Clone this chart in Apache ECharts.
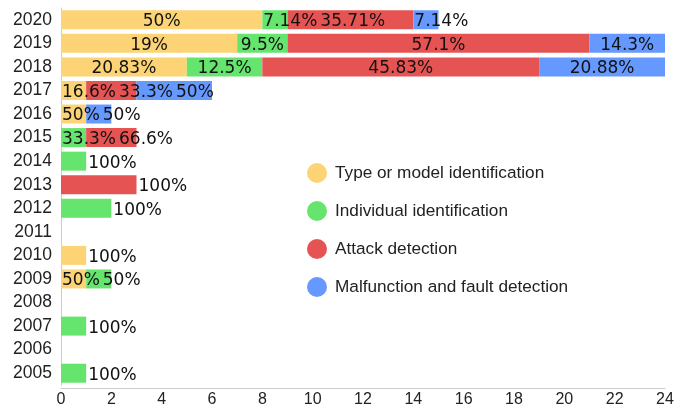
<!DOCTYPE html>
<html>
<head>
<meta charset="utf-8">
<script src="https://cdn.jsdelivr.net/npm/echarts@6/dist/echarts.min.js"></script>
<style>
html, body { margin: 0; padding: 0; background: #fff; }
#chart { width: 686px; height: 408px; }
</style>
</head>
<body>
<div id="chart"></div>
<script>
// years, bottom to top
const years = ['2005', '2006', '2007', '2008', '2009', '2010', '2011', '2012',
               '2013', '2014', '2015', '2016', '2017', '2018', '2019', '2020'];

const seriesNames = ['Type or model identification', 'Individual identification',
                     'Attack detection', 'Malfunction and fault detection'];

// bar lengths per year
const typeModel   = [0, 0, 0, 0, 1, 1, 0, 0, 0, 0, 0, 1, 1, 5, 7, 8];
const individual  = [1, 0, 1, 0, 1, 0, 0, 2, 0, 1, 1, 0, 0, 3, 2, 1];
const attack      = [0, 0, 0, 0, 0, 0, 0, 0, 3, 0, 2, 0, 2, 11, 12, 5];
const malfunction = [0, 0, 0, 0, 0, 0, 0, 0, 0, 0, 0, 1, 3, 5, 3, 1];

// label texts per year
const typeModelText   = ['', '', '', '', '50%', '100%', '', '', '', '', '', '50%', '16.6%', '20.83%', '19%', '50%'];
const individualText  = ['100%', '', '100%', '', '50%', '', '', '100%', '', '100%', '33.3%', '', '', '12.5%', '9.5%', '7.14%'];
const attackText      = ['', '', '', '', '', '', '', '', '100%', '', '66.6%', '', '33.3%', '45.83%', '57.1%', '35.71%'];
const malfunctionText = ['', '', '', '', '', '', '', '', '', '', '', '50%', '50%', '20.88%', '14.3%', '7.14%'];

const xTicks = { min: 0, max: 24, interval: 2 };

const colors = ['#fcd476', '#66e56e', '#e65353', '#6699ff'];
const values = [typeModel, individual, attack, malfunction];
const texts = [typeModelText, individualText, attackText, malfunctionText];

const labelFont = '17px "DejaVu Sans"';
const chart = echarts.init(document.getElementById('chart'));

function buildSeries(labelCfg) {
    return seriesNames.map((name, s) => ({
        name: name,
        type: 'bar',
        stack: 'total',
        barWidth: 19,
        itemStyle: { color: colors[s] },
        label: {
            show: true,
            color: '#111',
            fontSize: 17,
            fontFamily: 'DejaVu Sans',
            formatter: p => texts[s][p.dataIndex]
        },
        data: values[s].map((v, i) => {
            if (!v) return '-';
            return labelCfg ? { value: v, label: labelCfg[s][i] } : v;
        })
    }));
}

chart.setOption({
    animation: false,
    color: colors,
    grid: { left: 61, right: 21, top: 8, bottom: 21, containLabel: false },
    legend: {
        orient: 'vertical',
        left: 302,
        top: 158,
        icon: 'circle',
        itemWidth: 26,
        itemHeight: 20,
        itemGap: 18,
        textStyle: { fontSize: 17.2, fontFamily: 'Liberation Sans', color: '#222' },
        data: seriesNames
    },
    xAxis: {
        type: 'value',
        min: xTicks.min,
        max: xTicks.max,
        interval: xTicks.interval,
        offset: 3,
        splitLine: { show: false },
        axisTick: { show: false },
        axisLine: { show: true, lineStyle: { color: '#ccc' } },
        axisLabel: { fontSize: 16, fontFamily: 'Liberation Sans', color: '#222', margin: 4 }
    },
    yAxis: {
        type: 'category',
        data: years,
        axisTick: { show: false },
        axisLine: { show: true, lineStyle: { color: '#ccc' } },
        axisLabel: {
            interval: 0, fontSize: 17.5, fontFamily: 'Liberation Sans', color: '#222',
            margin: 9, padding: [6, 0, 0, 0]
        }
    },
    series: buildSeries(null)
});

// place labels: single bars get them on the right; otherwise centred if they fit,
// else from the bar start, pushed right past the previous label
const ctx = document.createElement('canvas').getContext('2d');
ctx.font = labelFont;
const px = v => chart.convertToPixel({ xAxisIndex: 0 }, v);
const labelCfg = values.map(() => []);
years.forEach((y, i) => {
    const present = values.map((arr, s) => s).filter(s => values[s][i]);
    let acc = 0;
    let prevEnd = -Infinity;
    present.forEach(s => {
        const x0 = px(acc);
        const x1 = px(acc + values[s][i]);
        acc += values[s][i];
        const w = ctx.measureText(texts[s][i]).width;
        let start;
        if (present.length === 1) {
            start = x1 + 2;
        } else if (w <= x1 - x0 - 4) {
            start = (x0 + x1) / 2 - w / 2;
        } else {
            start = x0 + 1;
        }
        if (start < prevEnd + 3) start = prevEnd + 3;
        prevEnd = start + w;
        labelCfg[s][i] = { position: 'insideLeft', distance: 0, offset: [start - x0, 2] };
    });
});

chart.setOption({ series: buildSeries(labelCfg) });
</script>
</body>
</html>
